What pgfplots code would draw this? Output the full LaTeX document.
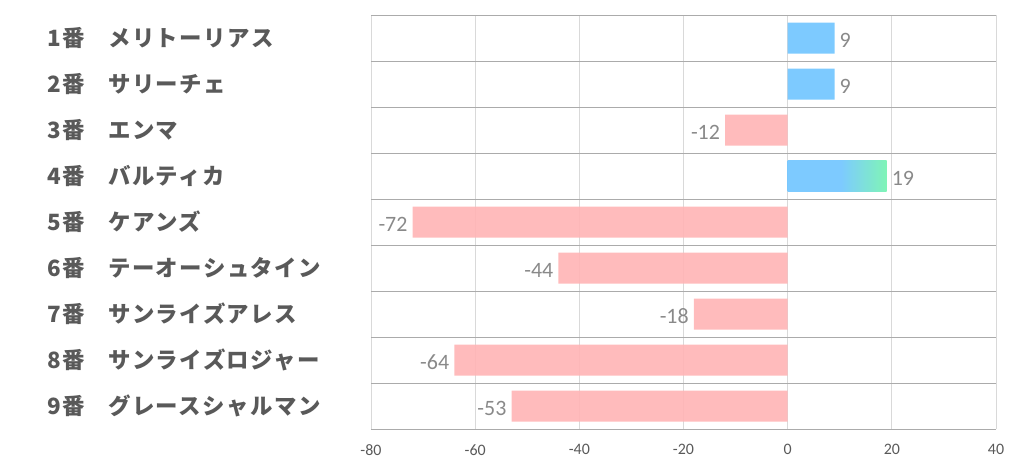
\documentclass[border=0pt]{standalone}
\usepackage{pgfplots}
\pgfplotsset{compat=1.18}
\usepackage{fontspec}
\setmainfont{Carlito}
\newfontfamily\cjk{Noto Sans CJK JP}[LetterSpace=6.5]
\definecolor{pinkbar}{HTML}{FFB5B6}
\definecolor{bluebar}{HTML}{72C6FF}
\definecolor{greenbar}{HTML}{74F4B0}
\definecolor{gridlight}{HTML}{D9D9D9}
\definecolor{griddark}{HTML}{ABABAB}
\definecolor{labgray}{HTML}{595959}
\definecolor{valgray}{HTML}{7F7F7F}
\definecolor{catgray}{HTML}{595959}
\pgfdeclarehorizontalshading{bgshade}{100bp}{color(0bp)=(bluebar); color(25bp)=(bluebar); color(52bp)=(bluebar); color(75bp)=(greenbar); color(100bp)=(greenbar)}
\begin{document}
\begin{tikzpicture}
\begin{axis}[
  at={(0,0)}, anchor=south west,
  scale only axis, width=625bp, height=414bp,
  xmin=-80, xmax=40, ymin=0.5, ymax=9.5, y dir=reverse,
  xtick={-80,-60,...,40},
  ytick={1,...,9},
  yticklabels={
    \makebox[61bp][l]{1番}メリトーリアス,
    \makebox[61bp][l]{2番}サリーチェ,
    \makebox[61bp][l]{3番}エンマ,
    \makebox[61bp][l]{4番}バルティカ,
    \makebox[61bp][l]{5番}ケアンズ,
    \makebox[61bp][l]{6番}テーオーシュタイン,
    \makebox[61bp][l]{7番}サンライズアレス,
    \makebox[61bp][l]{8番}サンライズロジャー,
    \makebox[61bp][l]{9番}グレースシャルマン},
  minor ytick={0.5,1.5,...,9.5},
  xmajorgrids, yminorgrids,
  major grid style={draw=gridlight, line width=0.8bp},
  minor grid style={draw=griddark, line width=1bp},
  axis line style={draw=none},
  major tick length=0pt, minor tick length=0pt,
  tick style={draw=none},
  /pgf/number format/assume math mode=true,
  xticklabel style={font=\fontsize{16}{18}\selectfont, text=labgray, yshift=-12bp},
  yticklabel style={font=\cjk\bfseries\fontsize{22.5}{24}\selectfont, text=catgray, anchor=west, inner sep=0pt, xshift=-324bp},
  xbar, bar width=31bp, bar shift=0pt,
  nodes near coords,
  every node near coord/.append style={font=\fontsize{22}{24}\selectfont, text=valgray, inner sep=5bp, yshift=-2bp},
]
\addplot[draw=none, fill=bluebar, fill opacity=0.92] coordinates {(9,1) (9,2)};
\addplot[draw=none, shading=bgshade, fill opacity=0.92] coordinates {(19,4)};
\addplot[draw=none, fill=pinkbar, fill opacity=0.92] coordinates {(-12,3) (-72,5) (-44,6) (-18,7) (-64,8) (-53,9)};
\end{axis}
\pgfresetboundingbox
\useasboundingbox (-371bp,-41bp) rectangle (651bp,429bp);
\end{tikzpicture}
\end{document}
